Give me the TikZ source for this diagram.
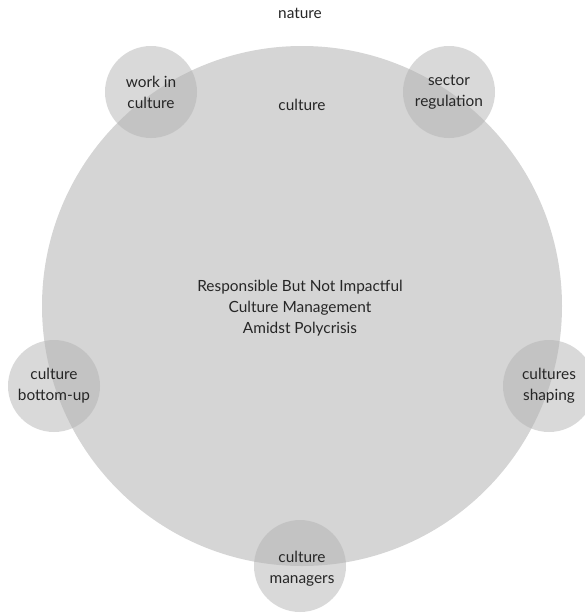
\documentclass[tikz,border=0pt]{standalone}
\usepackage{fontspec}
\setmainfont{Lato}
\definecolor{bigfill}{HTML}{D5D5D5}
\definecolor{smallfill}{HTML}{B3B3B3}
\definecolor{txt}{HTML}{262626}
\begin{document}
\begin{tikzpicture}[x=1pt,y=-1pt,
  lbl/.style={text=txt,font=\fontsize{15.4}{21}\selectfont,align=center,inner sep=0pt},
  bigcirc/.style={circle,fill=bigfill,minimum size=520pt,inner sep=0pt},
  smallcirc/.style={circle,fill=smallfill,fill opacity=0.5,minimum size=92pt,inner sep=0pt}]
\useasboundingbox (0,0) rectangle (585,614);
\node[bigcirc] (big) at (302,306) {};
\node[smallcirc] (c1) at (151,92) {};
\node[smallcirc] (c2) at (449,92) {};
\node[smallcirc] (c3) at (54,386) {};
\node[smallcirc] (c4) at (549,386) {};
\node[smallcirc] (c5) at (300,566) {};
\node[lbl] (nature) at (300,13) {nature};
\node[lbl] (culture) at (302,105) {culture};
\node[lbl] (title) at (300,308) {Responsible But Not Impactful\\Culture Management\\Amidst Polycrisis};
\node[lbl] (t1) at (c1) {work in\\culture};
\node[lbl] (t2) at (c2) {sector\\regulation};
\node[lbl] (t3) at (c3) {culture\\bottom-up};
\node[lbl] (t4) at (c4) {cultures\\shaping};
\node[lbl] (t5) at (302,569) {culture\\managers};
\end{tikzpicture}
\end{document}
